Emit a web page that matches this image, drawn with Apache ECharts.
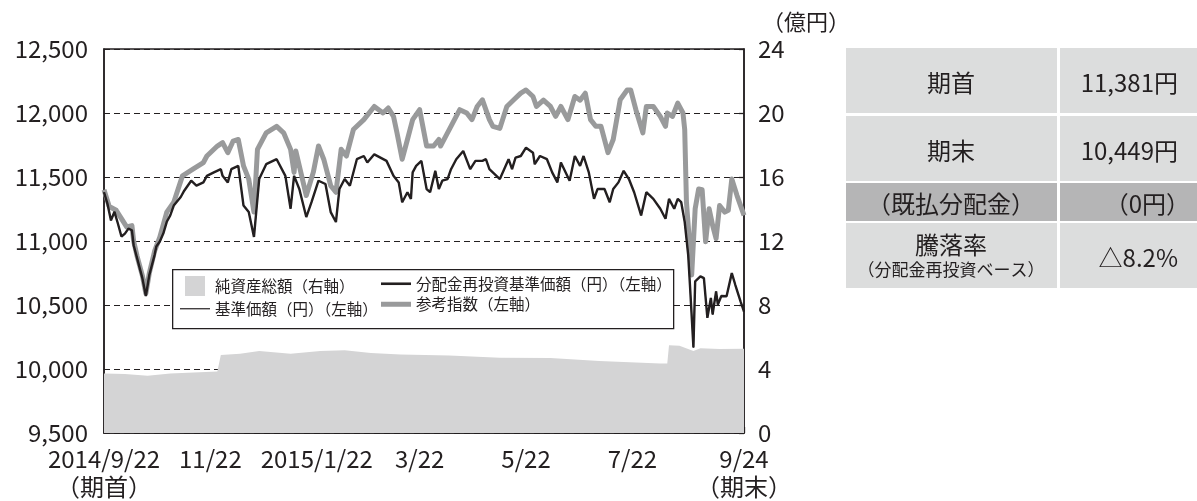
<!DOCTYPE html>
<html><head><meta charset="utf-8">
<script src="https://cdn.jsdelivr.net/npm/echarts@6/dist/echarts.min.js"></script>
<style>html,body{margin:0;padding:0;background:#fff;}#c{width:1197px;height:501px;}</style>
</head><body><div id="c"></div>
<script>
// x positions are days since 2014/9/22 (start of period)
const tickDays = [0, 61, 122, 181, 242, 303, 367];
const tickLabels = ['2014/9/22\n（期首）', '11/22', '2015/1/22', '3/22', '5/22', '7/22', '9/24\n（期末）'];

// 分配金再投資基準価額 (= 基準価額, no distribution)
const navDays = [0,2,4,6,8,10,12,14,16,17,19,22,24,26,29,30,32,34,36,38,40,44,46,47,50,53,57,59,63,67,68,71,73,77,80,83,86,89,93,99,104,107,109,112,116,119,123,127,130,133,135,138,141,145,149,151,155,162,166,169,171,174,176,177,179,182,185,187,190,192,194,197,199,202,206,210,213,217,219,221,227,232,234,236,239,242,246,247,250,254,257,260,262,267,270,273,275,278,281,283,287,290,292,295,298,301,304,308,311,315,319,322,324,327,329,331,333,335,336,338,339,342,344,346,348,349,351,352,354,357,360,362,365,367];
const navValues = [11381,11290,11161,11228,11135,11035,11058,11097,11084,10967,10864,10710,10570,10735,10890,10957,10996,11058,11150,11200,11277,11344,11393,11406,11471,11432,11458,11509,11536,11561,11509,11458,11561,11587,11277,11226,11032,11484,11600,11639,11509,11252,11509,11406,11187,11303,11471,11445,11226,11148,11406,11484,11432,11639,11664,11613,11677,11626,11509,11458,11303,11381,11329,11536,11587,11626,11406,11381,11548,11406,11471,11484,11561,11639,11703,11561,11626,11626,11639,11561,11484,11639,11561,11652,11664,11729,11690,11600,11664,11639,11536,11458,11613,11471,11664,11587,11664,11536,11329,11406,11406,11303,11406,11458,11548,11484,11381,11200,11381,11329,11252,11174,11329,11252,11329,11303,11148,10890,10658,10168,10684,10723,10710,10400,10555,10426,10606,10503,10570,10568,10749,10658,10529,10449];

// 参考指数
const refDays = [0,3,7,10,13,16,17,19,22,24,26,29,32,36,40,45,51,57,59,65,68,71,74,77,80,83,86,88,93,99,103,107,109,110,116,120,123,126,130,133,136,139,143,149,155,160,163,166,168,171,174,177,181,185,189,192,193,196,200,204,208,211,214,217,221,223,227,231,235,239,242,246,248,252,256,259,262,266,270,273,276,279,282,285,289,292,296,300,302,305,309,311,315,319,322,323,326,329,332,333,334,336,337,339,341,343,345,347,349,351,353,356,358,360,363,367];
const refValues = [11400,11270,11240,11175,11110,11120,11000,10880,10730,10590,10750,10920,11030,11226,11303,11509,11561,11613,11664,11742,11768,11690,11780,11793,11587,11484,11226,11716,11845,11896,11845,11716,11536,11703,11355,11536,11742,11639,11432,11381,11716,11664,11871,11948,12051,12000,12039,11974,11845,11639,11793,11948,12026,11742,11742,11793,11742,11819,11923,12026,12000,11948,12051,12103,11948,11896,11880,12051,12103,12155,12180,12129,12051,12100,12051,11974,12051,11948,12129,12100,12155,11948,11896,11896,11690,11793,12103,12180,12180,12026,11845,12051,12051,11974,11896,12000,11974,12077,12000,11871,11303,10942,10735,11252,11406,11400,10994,11252,11122,11019,11277,11226,11240,11484,11355,11200];

// 純資産総額 (億円)
const assetDays = [0,12,25,38,55,65,67,78,89,107,124,138,153,170,198,227,256,284,319,323,324,330,338,342,353,367];
const assetValues = [3.72,3.68,3.58,3.72,3.80,3.85,4.88,4.95,5.13,4.96,5.13,5.17,5.00,4.90,4.85,4.70,4.68,4.50,4.34,4.35,5.48,5.45,5.13,5.30,5.25,5.27];

const zip = (a, b) => a.map((d, i) => [d, b[i]]);
const FONT = '"Noto Sans CJK JP", "Noto Sans", sans-serif';
const INK = '#231f20';

const tableRows = [
  { label: '期首', value: '11,381円', top: 48, h: 65, fill: '#dcdddd' },
  { label: '期末', value: '10,449円', top: 116, h: 65, fill: '#dcdddd' },
  { label: '（既払分配金）', value: '（0円）', top: 183, h: 38, fill: '#b5b5b6' },
  { label: '騰落率', sub: '（分配金再投資ベース）', value: '△8.2%', top: 223, h: 65, fill: '#dcdddd' }
];

const graphics = [
  { type: 'rect', left: 172, top: 269, shape: { width: 501, height: 59 }, style: { fill: '#fff', stroke: INK, lineWidth: 1.3 }, z: 3 },
  { type: 'text', left: 762, top: 11, style: { text: '（億円）', fontSize: 22, fontFamily: FONT, fill: INK } }
];
tableRows.forEach(r => {
  graphics.push({ type: 'rect', shape: { x: 846, y: r.top, width: 211, height: r.h }, style: { fill: r.fill } });
  graphics.push({ type: 'rect', shape: { x: 1060, y: r.top, width: 137, height: r.h }, style: { fill: r.fill } });
  const cy = r.top + r.h / 2 + 2;
  if (r.sub) {
    graphics.push({ type: 'text', x: 951, y: cy - 13, style: { text: r.label, fontSize: 24, fontFamily: FONT, fill: INK, align: 'center', verticalAlign: 'middle' } });
    graphics.push({ type: 'text', x: 951, y: cy + 12, style: { text: r.sub, fontSize: 17, fontFamily: FONT, fill: INK, align: 'center', verticalAlign: 'middle' } });
  } else {
    graphics.push({ type: 'text', x: 951, y: cy, style: { text: r.label, fontSize: 24, fontFamily: FONT, fill: INK, align: 'center', verticalAlign: 'middle' } });
  }
  graphics.push({ type: 'text', x: r.value.startsWith('（') ? 1190 : 1178, y: cy, style: { text: r.value, fontSize: 24, fontFamily: FONT, fill: INK, align: 'right', verticalAlign: 'middle' } });
});

const chart = echarts.init(document.getElementById('c'), null, { renderer: 'canvas' });
const legendText = { fontSize: 15.5, fontFamily: FONT, color: INK };
chart.setOption({
  animation: false,
  backgroundColor: '#fff',
  textStyle: { fontFamily: FONT },
  grid: { left: 104, right: 453, top: 49, bottom: 65, show: true, borderColor: INK, borderWidth: 1.5, backgroundColor: 'transparent' },
  legend: [
    { left: 180, top: 276, orient: 'vertical', padding: 0, itemWidth: 30, itemHeight: 20, itemGap: 5, selectedMode: false, z: 10, textStyle: legendText,
      data: [ { name: '純資産総額（右軸）', icon: 'path://M0,0H20V20H0Z', itemStyle: { color: '#d4d4d5' } },
              { name: '基準価額（円）（左軸）', icon: 'path://M0,0H30V1.2H0Z', itemStyle: { color: INK } } ] },
    { left: 381, top: 276, orient: 'vertical', padding: 0, itemWidth: 30, itemHeight: 20, itemGap: 5, selectedMode: false, z: 10, textStyle: legendText,
      data: [ { name: '分配金再投資基準価額（円）（左軸）', icon: 'path://M0,0H30V2.6H0Z', itemStyle: { color: INK } },
              { name: '参考指数（左軸）', icon: 'path://M0,0H30V5H0Z', itemStyle: { color: '#999a9b' } } ] }
  ],
  xAxis: {
    type: 'value', min: 0, max: 367,
    axisLine: { show: true, lineStyle: { color: INK, width: 1.5 } },
    axisTick: { show: true, inside: true, length: 6, customValues: tickDays, lineStyle: { color: INK, width: 1.3 } },
    axisLabel: { customValues: tickDays, formatter: v => tickLabels[tickDays.indexOf(v)] || '', fontSize: 24, lineHeight: 28, margin: 12, color: INK, fontFamily: FONT },
    splitLine: { show: false }
  },
  yAxis: [
    { type: 'value', min: 9500, max: 12500, interval: 500, position: 'left',
      axisLine: { show: true, lineStyle: { color: INK, width: 1.5 } }, axisTick: { show: false },
      axisLabel: { fontSize: 24, margin: 16, color: INK, fontFamily: FONT, formatter: v => v.toLocaleString('en-US') },
      splitLine: { show: true, lineStyle: { color: INK, width: 1, type: [6, 4] } } },
    { type: 'value', min: 0, max: 24, interval: 4, position: 'right',
      axisLine: { show: true, lineStyle: { color: INK, width: 1.5 } },
      axisTick: { show: true, inside: true, length: 5, lineStyle: { color: INK, width: 1.3 } },
      axisLabel: { fontSize: 24, margin: 14, color: INK, fontFamily: FONT },
      splitLine: { show: false } }
  ],
  series: [
    { name: '純資産総額（右軸）', type: 'line', yAxisIndex: 1, data: zip(assetDays, assetValues), symbol: 'none',
      lineStyle: { width: 0 }, itemStyle: { color: '#d4d4d5' }, areaStyle: { color: '#d4d4d5', opacity: 1 }, z: 1 },
    { name: '参考指数（左軸）', type: 'line', yAxisIndex: 0, data: zip(refDays, refValues), symbol: 'none',
      lineStyle: { width: 5, color: '#999a9b', join: 'round' }, itemStyle: { color: '#999a9b' }, z: 2 },
    { name: '分配金再投資基準価額（円）（左軸）', type: 'line', yAxisIndex: 0, data: zip(navDays, navValues), symbol: 'none',
      lineStyle: { width: 2.4, color: INK }, itemStyle: { color: INK }, z: 3 },
    { name: '基準価額（円）（左軸）', type: 'line', yAxisIndex: 0, data: zip(navDays, navValues), symbol: 'none',
      lineStyle: { width: 1, color: INK }, itemStyle: { color: INK }, z: 4 }
  ],
  graphic: { elements: graphics }
});
</script></body></html>
